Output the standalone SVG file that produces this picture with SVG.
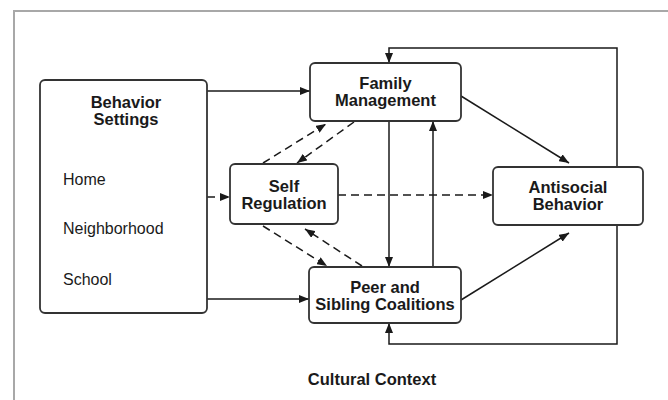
<svg xmlns="http://www.w3.org/2000/svg" width="668" height="400" viewBox="0 0 668 400">
  <defs>
    <marker id="arrow" markerUnits="userSpaceOnUse" markerWidth="10" markerHeight="8" refX="10" refY="4" orient="auto">
      <path d="M0,0 L10,4 L0,8 z" fill="#1a1a1a"/>
    </marker>
    <style>
      .box { fill: #ffffff; stroke: #333333; stroke-width: 1.8; }
      .lbl { font-family: "Liberation Sans", Arial, sans-serif; font-size: 16.5px; font-weight: bold; fill: #1a1a1a; text-anchor: middle; }
      .item { font-family: "Liberation Sans", Arial, sans-serif; font-size: 16px; fill: #1a1a1a; }
      .edge { fill: none; stroke: #1a1a1a; stroke-width: 1.5; marker-end: url(#arrow); }
      .dash { stroke-dasharray: 8 5; }
      .frame { fill: none; stroke: #a8a8a8; stroke-width: 2; }
    </style>
  </defs>

  <rect x="0" y="0" width="668" height="400" fill="#ffffff"/>
  <!-- outer frame (top and left edges) -->
  <path class="frame" d="M14,400 V11 H668"/>

  <g id="connectors">
    <path class="edge" d="M207,91 H310"/>
    <path class="edge" d="M207,299 H309"/>
    <path class="edge dash" d="M207,197 H230"/>
    <path class="edge dash" d="M338,195 H493"/>
    <path class="edge" d="M461,96 L569,163"/>
    <path class="edge" d="M461,300 L569,233"/>
    <path class="edge" d="M389,121 V267"/>
    <path class="edge" d="M433,267 V121"/>
    <path class="edge" d="M617,167 V48 H389 V63"/>
    <path class="edge" d="M617,225 V344 H389 V323"/>
    <path class="edge dash" d="M263,163 L326,124"/>
    <path class="edge dash" d="M354,122 L297,163"/>
    <path class="edge dash" d="M263,226 L327,266"/>
    <path class="edge dash" d="M362,266 L305,229"/>
  </g>

  <g id="behavior-settings">
    <rect class="box" x="40" y="80" width="167" height="233" rx="5"/>
    <text class="lbl" x="126" y="108">Behavior</text>
    <text class="lbl" x="126" y="125">Settings</text>
    <text class="item" x="63" y="185">Home</text>
    <text class="item" x="63" y="234">Neighborhood</text>
    <text class="item" x="63" y="285">School</text>
  </g>

  <g id="family-management">
    <rect class="box" x="310" y="63" width="151" height="58" rx="5"/>
    <text class="lbl" x="385.5" y="89">Family</text>
    <text class="lbl" x="385.5" y="106">Management</text>
  </g>

  <g id="self-regulation">
    <rect class="box" x="230" y="164" width="108" height="60" rx="5"/>
    <text class="lbl" x="284" y="192">Self</text>
    <text class="lbl" x="284" y="209">Regulation</text>
  </g>

  <g id="antisocial-behavior">
    <rect class="box" x="493" y="167" width="150" height="58" rx="5"/>
    <text class="lbl" x="568" y="193">Antisocial</text>
    <text class="lbl" x="568" y="210">Behavior</text>
  </g>

  <g id="peer-sibling-coalitions">
    <rect class="box" x="309" y="267" width="152" height="56" rx="5"/>
    <text class="lbl" x="385" y="293">Peer and</text>
    <text class="lbl" x="385" y="310">Sibling Coalitions</text>
  </g>

  <g id="cultural-context">
    <text class="lbl" x="372" y="385">Cultural Context</text>
  </g>
</svg>
